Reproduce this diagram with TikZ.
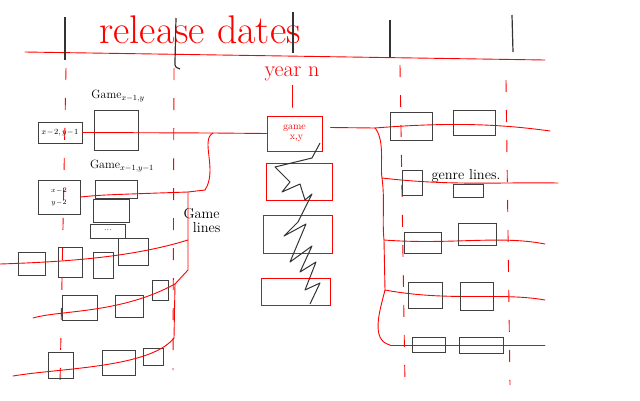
\documentclass[tikz,border=0pt]{standalone}
\begin{document}
\begin{tikzpicture}[x=1pt,y=-1pt,
  tick/.style={black!80,line width=1.2pt},
  redline/.style={red,line width=0.9pt,line join=round,line cap=round},
  reddash/.style={red,line width=0.9pt,dash pattern=on 12pt off 18pt},
  bbox/.style={draw=black!75,line width=1pt,inner sep=0pt},
  rbox/.style={draw=red,line width=1pt,inner sep=0pt},
  hand/.style={inner sep=1pt},
  zig/.style={black!80,line width=1pt,line join=round}]
\newcommand\mybox[6][bbox]{\node[#1,minimum width={#5-#3},minimum height={#6-#4}] (#2) at ({(#3+#5)/2},{(#4+#6)/2}) {};}
\useasboundingbox (0,0) rectangle (640,400);
\fill[white] (0,0) rectangle (640,400);

% header
\node[hand,red,font=\fontsize{40}{40}\selectfont] (title) at (200,30) {release dates};
\coordinate (hl) at (25,52); \coordinate (hr) at (545,60);
\draw[redline] (hl) -- (hr);
\draw[tick] (65,17) -- (65,60);
\draw[tick] (176,18) -- (175,62) .. controls (175,67) .. (180,69);
\draw[tick,line width=2.4pt] (293,12) -- (293,53);
\draw[tick] (390,20) -- (390,57);
\draw[tick] (512,15) -- (513,52);

% dashed verticals
\draw[reddash] (66,68) -- (60,385);
\draw[reddash] (174,68) -- (173,370);
\draw[reddash] (400,65) -- (405,385);
\draw[reddash] (506,80) -- (510,385);

% centre column
\node[hand,red,font=\fontsize{22}{22}\selectfont] (year) at (292,74) {year n};
\draw[redline] (year.south) ++(0,3) coordinate (ys) -- ++(0,22) coordinate (ye);
\mybox[rbox]{g1}{267}{116}{322}{151}
\node[hand,red,font=\normalsize,align=left] (g1t) at (g1) {game\\[-2pt]\ \ x,y};
\mybox[rbox]{g2}{266}{163}{332}{200}
\mybox[rbox]{g3}{263}{215}{332}{253}
\mybox[rbox]{g4}{261}{278}{330}{305}
\draw[zig] (320,143) -- (312,158) -- (275,167) -- (290,182) -- (282,192) -- (300,184)
  -- (305,200) -- (312,194) -- (298,222) -- (284,236) -- (306,224) -- (290,262)
  -- (312,246) -- (300,272) -- (316,262) -- (305,290) -- (320,283) -- (310,304);

% left side boxes
\mybox{s1}{38}{122}{82}{143}
\node[hand,font=\footnotesize] (s1t) at (s1) {$x\!-\!2,y\!-\!1$};
\mybox{b1}{94}{110}{138}{150}
\node[hand,font=\large] (b1t) at (118,96) {Game$_{x-1,y}$};
\mybox{s2}{38}{180}{80}{214}
\node[hand,font=\scriptsize] (s2t) at ([yshift=6pt]s2.center) {$x\!-\!2$};
\node[hand,font=\scriptsize] (s2u) at ([yshift=-6pt]s2.center) {$y\!-\!2$};
\node[hand,font=\large] (b2t) at (122,166) {Game$_{x-1,y-1}$};
\mybox{st1}{95}{180}{137}{198}
\mybox{st2}{93}{199}{129}{222}
\mybox{st3}{90}{224}{125}{238}
\node[hand,font=\small] (dots) at (108,230) {...};
% rows
\mybox{r11}{18}{252}{45}{275}
\mybox{r12}{58}{247}{82}{277}
\mybox{r13}{93}{252}{113}{278}
\mybox{r14}{118}{238}{148}{265}
\mybox{r21}{62}{295}{97}{320}
\mybox{r22}{115}{295}{143}{317}
\mybox{r23}{152}{280}{168}{300}
\mybox{r31}{48}{352}{73}{378}
\mybox{r32}{102}{350}{135}{375}
\mybox{r33}{143}{348}{163}{365}
\node[hand,font=\Large,align=left] (glines) at (202,220) {Game\\[-4pt]\ \ lines};

% left red game lines
\coordinate (lb1) at (213,133);
\coordinate (lb2) at (205,190);
\coordinate (lb3) at (188,192);
\coordinate (lb4) at (188,240);
\coordinate (lb5) at (188,270);
\coordinate (lb6) at (175,284);
\coordinate (lb7) at (174,338);
\draw[redline] (s1.east) -- (lb1) -- (g1.west);
\draw[redline] (lb1) .. controls (200,140) and (218,170) .. (lb2);
\draw[redline] (s2.east) .. controls (100,195) .. (lb3) -- (lb2);
\draw[redline] (lb3) -- (lb4) -- (lb5) -- (lb6) -- (lb7);
\coordinate (rl1) at (0,264);
\draw[redline] (rl1) .. controls (60,262) and (130,258) .. (lb4);
\coordinate (rl2) at (33,318);
\draw[redline] (rl2) .. controls (60,310) and (120,314) .. (lb6);
\coordinate (rl3) at (13,376);
\draw[redline] (rl3) .. controls (60,368) and (150,368) .. (lb7);

% right side
\coordinate (rb1) at (375,128);
\coordinate (rb2) at (382,178);
\coordinate (rb3) at (384,240);
\coordinate (rb4) at (385,290);
\coordinate (rb5) at (390,345);
\draw[redline] (g1.east) ++(8,-6) -- (rb1);
\draw[redline] (rb1) .. controls (385,140) and (380,165) .. (rb2) .. controls (385,200) and (382,220) .. (rb3) -- (rb4) .. controls (380,310) and (370,340) .. (rb5);
\coordinate (re1) at (550,131);
\coordinate (re2) at (558,183);
\coordinate (re3) at (545,244);
\coordinate (re4) at (545,300);
\coordinate (re5) at (545,345);
\draw[redline] (rb1) .. controls (450,122) and (500,124) .. (re1);
\draw[redline] (rb2) .. controls (450,186) and (500,182) .. (re2);
\draw[redline] (rb3) .. controls (450,245) and (500,235) .. (re3);
\draw[redline] (rb4) .. controls (450,302) and (500,292) .. (re4);
\draw[redline] (rb5) -- (re5);
\mybox{ra1}{390}{112}{432}{140}
\mybox{rb1b}{453}{110}{495}{135}
\mybox{ra2}{402}{170}{422}{195}
\mybox{rb2b}{453}{184}{483}{197}
\mybox{ra3}{404}{232}{441}{253}
\mybox{rb3b}{458}{223}{496}{245}
\mybox{ra4}{408}{282}{442}{308}
\mybox{rb4b}{460}{282}{493}{310}
\mybox{ra5}{412}{337}{445}{352}
\mybox{rb5b}{459}{337}{503}{353}
\node[hand,font=\Large] (genre) at (466,176) {genre lines.};
\end{tikzpicture}
\end{document}
